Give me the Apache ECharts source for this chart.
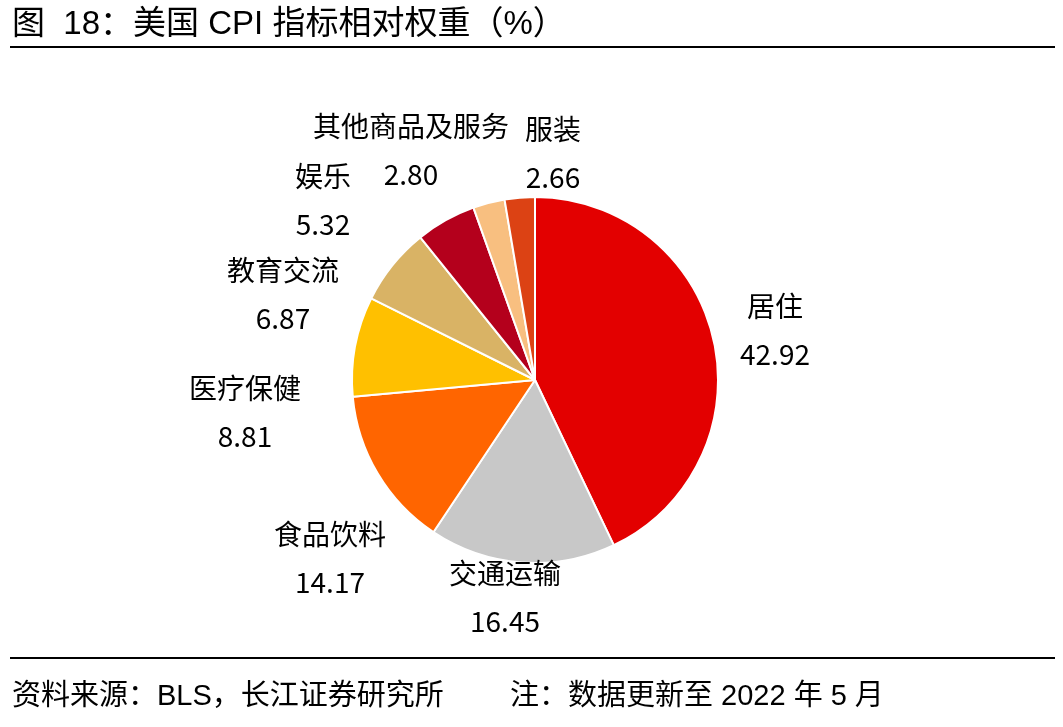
<!DOCTYPE html>
<html>
<head>
<meta charset="utf-8">
<script src="https://cdn.jsdelivr.net/npm/echarts@6/dist/echarts.min.js"></script>
<style>
  html, body { margin: 0; padding: 0; background: #fff; }
  #chart { width: 1063px; height: 727px; }
</style>
</head>
<body>
<div id="chart"></div>
<script>
// CPI weights, clockwise from 12 o'clock
const categories = ['居住', '交通运输', '食品饮料', '医疗保健', '教育交流', '娱乐', '其他商品及服务', '服装'];
const weights = [42.92, 16.45, 14.17, 8.81, 6.87, 5.32, 2.80, 2.66];
const colors = ['#E30000', '#C8C8C8', '#FF6500', '#FFC000', '#D9B365', '#B4001C', '#F8BF80', '#DC4214'];

// label block centres, offset from the pie centre (hand placed in the original)
const labelOffsets = [[240, -50], [-30, 217], [-205, 178], [-290, 32], [-252, -86], [-212, -180], [-124, -230], [18, -227]];

const pieCenter = [535, 380];
const labelFont = '"Noto Sans CJK SC", "Noto Sans", sans-serif';
const textFont = '"Liberation Sans", "Noto Sans CJK SC", sans-serif';

const chart = echarts.init(document.getElementById('chart'));

chart.setOption({
  backgroundColor: '#fff',
  animation: false,
  graphic: [
    {
      type: 'text', left: 12, top: 8,
      style: { text: '图  18：美国 CPI 指标相对权重（%）', font: '33px ' + textFont, fill: '#000' }
    },
    { type: 'rect', shape: { x: 10, y: 46, width: 1045, height: 2 }, style: { fill: '#000' } },
    { type: 'rect', shape: { x: 10, y: 657, width: 1045, height: 2 }, style: { fill: '#000' } },
    {
      type: 'text', left: 12, top: 682,
      style: { text: '资料来源：BLS，长江证券研究所', font: '29px ' + textFont, fill: '#000' }
    },
    {
      type: 'text', left: 510, top: 682,
      style: { text: '注：数据更新至 2022 年 5 月', font: '29px ' + textFont, fill: '#000' }
    }
  ],
  series: [
    {
      type: 'pie',
      center: pieCenter,
      radius: 183,
      startAngle: 90,
      clockwise: true,
      avoidLabelOverlap: false,
      data: categories.map((name, i) => ({
        name: name,
        value: weights[i],
        itemStyle: { color: colors[i] }
      })),
      itemStyle: { borderColor: '#fff', borderWidth: 2 },
      label: {
        show: true,
        position: 'outside',
        formatter: (p) => '{n|' + p.name + '}\n{n|' + p.value.toFixed(2) + '}',
        rich: {
          n: { fontFamily: labelFont, fontSize: 28, color: '#000', lineHeight: 48, align: 'center' }
        }
      },
      labelLine: { show: false },
      labelLayout: (params) => {
        const off = labelOffsets[params.dataIndex];
        return {
          x: pieCenter[0] + off[0],
          y: pieCenter[1] + off[1],
          align: 'center',
          verticalAlign: 'middle'
        };
      },
      emphasis: { disabled: true }
    }
  ]
});
</script>
</body>
</html>
